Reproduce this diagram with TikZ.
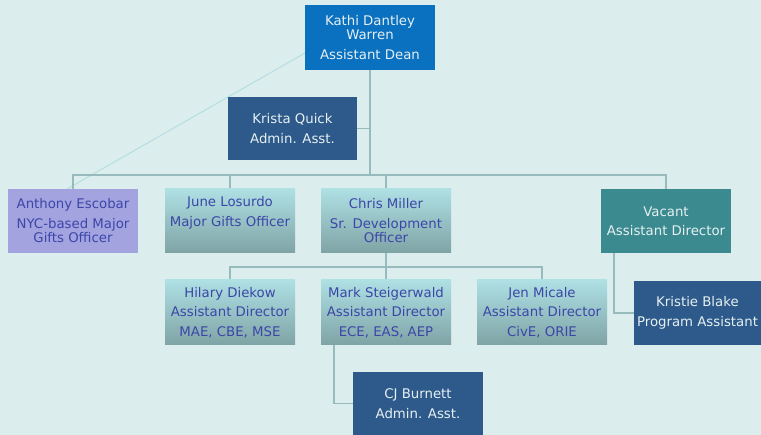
\documentclass[tikz,border=0pt]{standalone}
\usepackage{fontspec}
\setmainfont{DejaVu Sans}
\pgfdeclarelayer{bg}
\pgfdeclarelayer{edges}
\pgfsetlayers{bg,edges,main}
\definecolor{bgc}{HTML}{DCEDED}
\definecolor{linec}{HTML}{97BABD}
\definecolor{diagc}{HTML}{B3DFE0}
\definecolor{deanc}{HTML}{0A70C0}
\definecolor{navyc}{HTML}{2D5A8A}
\definecolor{tealc}{HTML}{3A8A8F}
\definecolor{lavc}{HTML}{A3A3E0}
\definecolor{gtop}{HTML}{AEE0E4}
\definecolor{gbot}{HTML}{7FA3A5}
\definecolor{bluetext}{HTML}{3C46A8}
\definecolor{lighttext}{HTML}{E6F0F2}
\tikzset{
  box/.style={inner sep=0pt, minimum width=130pt, minimum height=64pt, align=center,
    font=\fontsize{13.3}{14.5}\selectfont},
  darkbox/.style={box, fill=navyc, text=lighttext},
  deanbox/.style={box, fill=deanc, text=lighttext},
  tealbox/.style={box, fill=tealc, text=lighttext},
  lavbox/.style={box, fill=lavc, text=bluetext},
  gradbox/.style={box, top color=gtop, bottom color=gbot, text=bluetext},
  conn/.style={draw=linec, line width=1.4pt},
  diag/.style={draw=diagc, line width=1pt}
}
\begin{document}
\begin{tikzpicture}[x=1pt,y=-1pt]
\begin{pgfonlayer}{bg}
\fill[bgc] (0,0) rectangle (761,435);
\end{pgfonlayer}
\useasboundingbox (0,0) rectangle (761,435);

\node[deanbox, minimum height=65pt] (dean) at (370,37.5) {Kathi Dantley\\Warren\\[5pt]Assistant Dean};
\node[darkbox, minimum width=129pt, minimum height=63pt] (krista) at (292.5,128.5) {Krista Quick\\[5pt]Admin. Asst.};

\node[lavbox] (anthony) at (73,221) {Anthony Escobar\\[5pt]NYC-based Major\\Gifts Officer};
\node[gradbox] (june) at (230,221) {June Losurdo\\[5pt]Major Gifts Officer\\\strut};
\node[gradbox] (chris) at (386,221) {Chris Miller\\[5pt]Sr. Development\\Officer};
\node[tealbox] (vacant) at (666,221) {Vacant\\[5pt]Assistant Director};

\node[gradbox, minimum height=65pt] (hilary) at (230,312.5) {Hilary Diekow\\[5pt]Assistant Director\\[5pt]MAE, CBE, MSE};
\node[gradbox, minimum height=65pt] (mark) at (386,312.5) {Mark Steigerwald\\[5pt]Assistant Director\\[5pt]ECE, EAS, AEP};
\node[gradbox, minimum height=65pt] (jen) at (542,312.5) {Jen Micale\\[5pt]Assistant Director\\[5pt]CivE, ORIE};

\node[darkbox, minimum height=63pt] (cj) at (418,403.5) {CJ Burnett\\[5pt]Admin. Asst.};
\node[darkbox, minimum width=127pt] (kristie) at (697.5,313) {Kristie Blake\\[5pt]Program Assistant};

\coordinate (bar) at (370,175);
\coordinate (bar2) at (386,267);
\coordinate (markdrop) at (334,345);
\coordinate (vacdrop) at (614,253);
\coordinate (diagA) at (67,189);
\coordinate (diagB) at (305,53);

\begin{pgfonlayer}{edges}
\draw[diag] (diagA) -- (diagB);
\draw[conn] (dean.south) -- (dean.south |- bar);
\draw[conn] (krista.east) -- (krista.east -| dean.south);
\draw[conn] (anthony.north) -- (anthony.north |- bar) -- (vacant.north |- bar) -- (vacant.north);
\draw[conn] (june.north) -- (june.north |- bar);
\draw[conn] (chris.north) -- (chris.north |- bar);
\draw[conn] (chris.south) -- (bar2);
\draw[conn] (hilary.north) -- (hilary.north |- bar2) -- (jen.north |- bar2) -- (jen.north);
\draw[conn] (mark.north) -- (mark.north |- bar2);
\draw[conn] (markdrop) |- (cj.west);
\draw[conn] (vacdrop) |- (kristie.west);
\end{pgfonlayer}
\end{tikzpicture}
\end{document}
